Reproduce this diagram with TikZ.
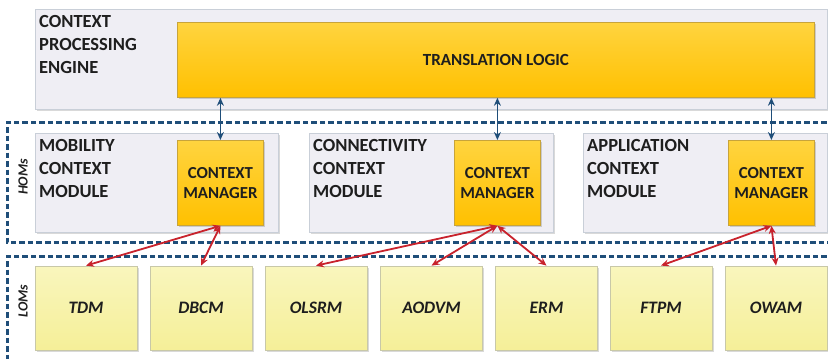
\documentclass[tikz,border=0pt]{standalone}
\usepackage{fontspec}
\setmainfont{Carlito}
\usetikzlibrary{arrows.meta,shadows}
\definecolor{panelfill}{HTML}{EFEEF4}
\definecolor{panelline}{HTML}{C9CFD8}
\definecolor{goldtop}{HTML}{FFD43F}
\definecolor{goldbot}{HTML}{FFC000}
\definecolor{goldline}{HTML}{C8A43A}
\definecolor{lomtop}{HTML}{F9F6BD}
\definecolor{lombot}{HTML}{F5EF98}
\definecolor{lomline}{HTML}{C8C8A8}
\definecolor{dashblue}{HTML}{1F4E79}
\definecolor{arrred}{HTML}{C8222C}
\definecolor{txt}{HTML}{1E1E1E}
\tikzset{
  panel/.style={draw=panelline, line width=1pt, fill=panelfill, anchor=north west, inner sep=0pt,
    drop shadow={shadow xshift=1.5pt, shadow yshift=-1.5pt, fill=black!25, opacity=0.6}},
  gold/.style={draw=goldline, line width=0.8pt, top color=goldtop, bottom color=goldbot, anchor=north west,
    inner sep=0pt, align=center, text=txt, font=\bfseries,
    drop shadow={shadow xshift=1.5pt, shadow yshift=-1.5pt, fill=black!30, opacity=0.6}},
  lom/.style={draw=lomline, line width=0.8pt, top color=lomtop, bottom color=lombot,
    minimum width=102pt, minimum height=84pt, inner sep=0pt, text=txt,
    font=\fontsize{17.5}{20}\selectfont\bfseries\itshape,
    drop shadow={shadow xshift=1.5pt, shadow yshift=-1.5pt, fill=black!25, opacity=0.6}},
  ptitle/.style={anchor=north west, align=left, inner sep=0pt, text=txt,
    font=\fontsize{18.5}{23}\selectfont\bfseries},
  layerlab/.style={rotate=90, inner sep=0pt, text=txt, font=\fontsize{14}{16}\selectfont\bfseries\itshape},
  dashline/.style={draw=dashblue, line width=3pt, dash pattern=on 5.5pt off 3pt},
  bluearr/.style={draw=dashblue, line width=1.8pt, {Stealth[length=8pt,width=7pt]}-{Stealth[length=8pt,width=7pt]}},
  redarr/.style={draw=arrred, line width=1.8pt, {Stealth[length=8pt,width=7pt]}-{Stealth[length=8pt,width=7pt]}},
}
\begin{document}
\begin{tikzpicture}[x=1pt,y=-1pt]
\useasboundingbox (0,0) rectangle (828,359);
% dashed layers
\coordinate (h1) at (835,122);
\coordinate (h2) at (7,122);
\coordinate (h3) at (7,242);
\coordinate (h4) at (835,242);
\coordinate (l1) at (835,256);
\coordinate (l2) at (7,256);
\coordinate (l3) at (7,365);
\draw[dashline] (h1) -- (h2) -- (h3) -- (h4);
\draw[dashline] (l1) -- (l2) -- (l3);
\node[layerlab] (homs) at (23,177) {HOMs};
\node[layerlab] (loms) at (23,301) {LOMs};
% engine
\node[panel, minimum width=792pt, minimum height=100pt] (cpe) at (35,9) {};
\node[ptitle] (cpet) at (39,15) {CONTEXT\\PROCESSING\\ENGINE};
\node[gold, minimum width=637pt, minimum height=75pt, font=\fontsize{17}{20}\selectfont\bfseries] (tl) at (177,22) {TRANSLATION LOGIC};
% modules
\node[panel, minimum width=243pt, minimum height=99pt] (mob) at (35,133) {};
\node[panel, minimum width=244pt, minimum height=99pt] (con) at (309,133) {};
\node[panel, minimum width=244pt, minimum height=99pt] (app) at (583,133) {};
\node[ptitle] (mobt) at (39,139) {MOBILITY\\CONTEXT\\MODULE};
\node[ptitle] (cont) at (313,139) {CONNECTIVITY\\CONTEXT\\MODULE};
\node[ptitle] (appt) at (587,139) {APPLICATION\\CONTEXT\\MODULE};
\tikzset{cmgr/.style={gold, minimum width=86pt, minimum height=85pt, font=\fontsize{16.8}{19.5}\selectfont\bfseries}}
\node[cmgr] (cm1) at (177,140) {CONTEXT\\MANAGER};
\node[cmgr] (cm2) at (454,140) {CONTEXT\\MANAGER};
\node[cmgr] (cm3) at (728,140) {CONTEXT\\MANAGER};
% LOMs
\node[lom] (tdm) at (86,308) {TDM};
\node[lom] (dbcm) at (201,308) {DBCM};
\node[lom] (olsrm) at (316,308) {OLSRM};
\node[lom] (aodvm) at (431.5,308) {AODVM};
\node[lom] (erm) at (546.5,308) {ERM};
\node[lom] (ftpm) at (661,308) {FTPM};
\node[lom] (owam) at (776,308) {OWAM};
% blue connectors
\draw[bluearr] (tl.south -| cm1.north) -- (cm1.north);
\draw[bluearr] (tl.south -| cm2.north) -- (cm2.north);
\draw[bluearr] (tl.south -| cm3.north) -- (cm3.north);
% red connectors
\draw[redarr] (cm1.south) -- (tdm.north);
\draw[redarr] (cm1.south) -- (dbcm.north);
\draw[redarr] (cm2.south) -- (olsrm.north);
\draw[redarr] (cm2.south) -- (aodvm.north);
\draw[redarr] (cm2.south) -- (erm.north);
\draw[redarr] (cm3.south) -- (ftpm.north);
\draw[redarr] (cm3.south) -- (owam.north);
\end{tikzpicture}
\end{document}
